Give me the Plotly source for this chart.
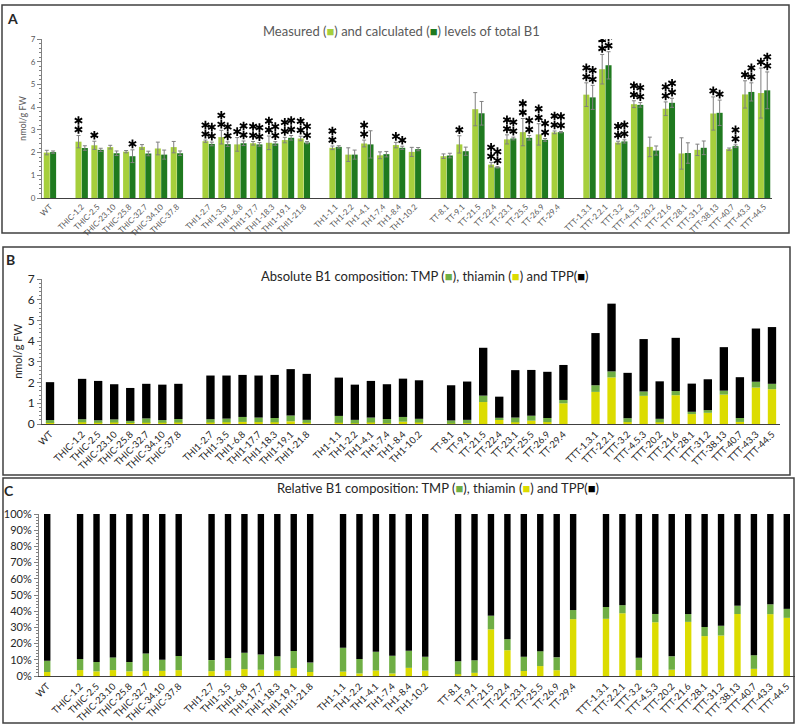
import math
import numpy as np
import plotly.graph_objects as go

# plant lines, grouped by construct
wt = ["WT"]
thic = ["THIC-1.2", "THIC-2.5", "THIC-23.10", "THIC-25.8", "THIC-32.7", "THIC-34.10", "THIC-37.8"]
thi1 = ["THI1-2.7", "THI1-3.5", "THI1-6.8", "THI1-17.7", "THI1-18.3", "THI1-19.1", "THI1-21.8"]
th1 = ["TH1-1.1", "TH1-2.2", "TH1-4.1", "TH1-7.4", "TH1-8.4", "TH1-10.2"]
tt = ["TT-8.1", "TT-9.1", "TT-21.5", "TT-22.4", "TT-23.1", "TT-25.5", "TT-26.9", "TT-29.4"]
ttt = ["TTT-1.3.1", "TTT-2.2.1", "TTT-3.2", "TTT-4.5.3", "TTT-20.2", "TTT-21.6", "TTT-28.1",
       "TTT-31.2", "TTT-38.13", "TTT-40.7", "TTT-43.3", "TTT-44.5"]
groups = [wt, thic, thi1, th1, tt, ttt]
lines = [n for g in groups for n in g]

# panel A: total B1 (nmol/g FW)
measured = [2.00,
            2.48, 2.32, 2.24, 2.04, 2.25, 2.18, 2.24,
            2.50, 2.68, 2.36, 2.41, 2.43, 2.55, 2.62,
            2.21, 1.91, 2.40, 1.88, 2.33, 2.03,
            1.84, 2.36, 3.91, 1.47, 2.58, 2.90, 2.80, 2.89,
            4.55, 5.67, 2.44, 4.13, 2.25, 3.93, 1.96, 2.12, 3.72, 2.15, 4.56, 4.62]
measured_err = [0.10,
                0.27, 0.18, 0.08, 0.05, 0.10, 0.28, 0.25,
                0.05, 0.30, 0.30, 0.08, 0.30, 0.12, 0.10,
                0.08, 0.30, 0.15, 0.15, 0.12, 0.20,
                0.10, 0.38, 0.73, 0.10, 0.20, 0.60, 0.47, 0.06,
                0.52, 0.65, 0.06, 0.15, 0.43, 0.30, 0.69, 0.25, 0.73, 0.05, 0.60, 1.10]
calculated = [2.02,
              2.20, 2.12, 1.97, 1.84, 1.96, 1.91, 1.97,
              2.38, 2.37, 2.41, 2.36, 2.40, 2.65, 2.44,
              2.25, 1.91, 2.36, 1.93, 2.21, 2.15,
              1.87, 2.06, 3.73, 1.35, 2.62, 2.65, 2.56, 2.90,
              4.43, 5.84, 2.49, 4.10, 2.09, 4.19, 1.98, 2.21, 3.75, 2.28, 4.67, 4.74]
calculated_err = [0.05,
                  0.10, 0.07, 0.10, 0.28, 0.10, 0.20, 0.10,
                  0.08, 0.10, 0.10, 0.08, 0.08, 0.10, 0.05,
                  0.05, 0.20, 0.60, 0.12, 0.07, 0.07,
                  0.10, 0.18, 0.52, 0.03, 0.06, 0.10, 0.06, 0.03,
                  0.53, 0.60, 0.07, 0.10, 0.20, 0.20, 0.45, 0.30, 0.56, 0.06, 0.40, 0.81]
measured_stars = [0,
                  2, 1, 0, 0, 0, 0, 0,
                  2, 2, 1, 2, 2, 2, 2,
                  2, 0, 2, 0, 1, 0,
                  0, 1, 0, 2, 2, 2, 2, 2,
                  2, 2, 2, 2, 0, 2, 0, 0, 1, 0, 1, 1]
calculated_stars = [0,
                    0, 0, 0, 1, 0, 0, 0,
                    2, 2, 2, 2, 2, 2, 2,
                    0, 0, 0, 0, 1, 0,
                    0, 0, 0, 2, 2, 2, 2, 2,
                    2, 2, 2, 2, 0, 2, 0, 0, 1, 2, 2, 2]

# panels B and C: B1 vitamers (nmol/g FW)
thiamin = [0.05,
           0.08, 0.06, 0.07, 0.05, 0.06, 0.06, 0.07,
           0.07, 0.08, 0.10, 0.09, 0.08, 0.13, 0.06,
           0.06, 0.03, 0.07, 0.03, 0.11, 0.07,
           0.02, 0.04, 1.06, 0.21, 0.08, 0.16, 0.09, 1.00,
           1.55, 2.25, 0.09, 1.36, 0.08, 1.39, 0.48, 0.54, 1.42, 0.10, 1.76, 1.68]
tmp = [0.14,
       0.15, 0.12, 0.15, 0.10, 0.21, 0.13, 0.17,
       0.16, 0.18, 0.24, 0.22, 0.21, 0.28, 0.14,
       0.33, 0.17, 0.24, 0.21, 0.23, 0.18,
       0.15, 0.16, 0.31, 0.09, 0.23, 0.24, 0.20, 0.16,
       0.32, 0.29, 0.19, 0.21, 0.17, 0.20, 0.11, 0.13, 0.19, 0.19, 0.28, 0.26]
tpp = [1.83,
       1.95, 1.90, 1.70, 1.59, 1.67, 1.71, 1.70,
       2.11, 2.08, 2.03, 2.03, 2.08, 2.24, 2.22,
       1.85, 1.70, 1.77, 1.68, 1.85, 1.86,
       1.70, 1.85, 2.31, 1.02, 2.29, 2.21, 2.23, 1.69,
       2.52, 3.27, 2.19, 2.53, 1.81, 2.57, 1.36, 1.49, 2.10, 1.97, 2.57, 2.74]

W, H = 800, 726
FONT = "Lato"
LIGHT = "#a6cf3c"
DARK = "#1f7a1f"
YELLOW = "#dcdc00"
GREEN = "#6fae45"

# category axis with an empty slot between construct groups
cats = []
for i, g in enumerate(groups):
    if i:
        cats.append(" " * i)
    cats += g


def px(x):
    return x / W


def py(y):
    return 1 - y / H


def star_path(cx, cy, r=4.3):
    # six-armed asterisk, pixel coords relative to the anchor point
    s = ""
    for ang in (90, 30, -30):
        dx = r * math.cos(math.radians(ang))
        dy = r * math.sin(math.radians(ang))
        s += "M%.2f,%.2fL%.2f,%.2f" % (cx - dx, cy - dy, cx + dx, cy + dy)
    return s


fig = go.Figure()

# ---- A
fig.add_bar(x=lines, y=measured, marker_color=LIGHT, width=0.38, offset=-0.39,
            error_y=dict(type="data", array=measured_err, color="#808080", thickness=1, width=2),
            xaxis="x", yaxis="y", name="measured")
fig.add_bar(x=lines, y=calculated, marker_color=DARK, width=0.38, offset=0.01,
            error_y=dict(type="data", array=calculated_err, color="#808080", thickness=1, width=2),
            xaxis="x", yaxis="y", name="calculated")

# ---- B (stacked by hand, overlay mode)
thi = np.array(thiamin)
tm = np.array(tmp)
tp = np.array(tpp)
fig.add_bar(x=lines, y=thi, marker_color=YELLOW, width=0.52, xaxis="x2", yaxis="y2")
fig.add_bar(x=lines, y=tm, base=thi, marker_color=GREEN, width=0.52, xaxis="x2", yaxis="y2")
fig.add_bar(x=lines, y=tp, base=thi + tm, marker_color="black", width=0.52, xaxis="x2", yaxis="y2")

# ---- C relative
tot = thi + tm + tp
fig.add_bar(x=lines, y=thi / tot * 100, marker_color=YELLOW, width=0.39, xaxis="x3", yaxis="y3")
fig.add_bar(x=lines, y=tm / tot * 100, base=thi / tot * 100, marker_color=GREEN, width=0.39,
            xaxis="x3", yaxis="y3")
fig.add_bar(x=lines, y=tp / tot * 100, base=(thi + tm) / tot * 100, marker_color="black",
            width=0.39, xaxis="x3", yaxis="y3")

fig.update_traces(marker_line_width=0)

xcommon = dict(type="category", categoryorder="array", categoryarray=cats,
               range=[-0.5, len(cats) - 0.5], tickangle=-45, showline=True,
               linecolor="#404040", linewidth=1.2, ticks="", showgrid=False, zeroline=False,
               automargin=False)
ycommon = dict(showline=True, linecolor="#808080", linewidth=1, ticks="outside", ticklen=4,
               tickcolor="#808080", showgrid=False, zeroline=False, automargin=False)

fig.update_layout(
    width=W, height=H, autosize=False,
    margin=dict(l=0, r=0, t=0, b=0),
    paper_bgcolor="white", plot_bgcolor="white",
    barmode="overlay", showlegend=False,
    font=dict(family=FONT, color="#262626"),
    xaxis=dict(xcommon, domain=[px(42), px(772)], anchor="y",
               tickfont=dict(size=8, color="#595959")),
    yaxis=dict(ycommon, domain=[py(198), py(39)], anchor="x", range=[0, 7], dtick=1,
               tickfont=dict(size=8, color="#595959"),
               minor=dict(ticks="outside", ticklen=2, dtick=0.2, tickcolor="#808080"),
               title=dict(text="nmol/g FW", font=dict(size=9, color="#595959"), standoff=2)),
    xaxis2=dict(xcommon, domain=[px(42), px(780)], anchor="y2",
                tickfont=dict(size=9.5, color="#262626")),
    yaxis2=dict(ycommon, domain=[py(424), py(279)], anchor="x2", range=[0, 7], dtick=1,
                tickfont=dict(size=12, color="#262626"),
                minor=dict(ticks="outside", ticklen=2, dtick=0.2, tickcolor="#808080"),
                title=dict(text="nmol/g FW", font=dict(size=11, color="#262626"), standoff=2)),
    xaxis3=dict(xcommon, domain=[px(39), px(795)], anchor="y3",
                tickfont=dict(size=9.5, color="#262626")),
    yaxis3=dict(ycommon, domain=[py(676), py(514)], anchor="x3", range=[0, 100], dtick=10,
                ticksuffix="%", tickfont=dict(size=11, color="#262626"),
                minor=dict(ticks="outside", ticklen=2, dtick=2, tickcolor="#808080")),
)

sq = "<span style='color:%s'>■</span>"
ann = [
    dict(x=px(401), y=py(31), text="Measured (" + sq % LIGHT + ") and calculated (" + sq % DARK
         + ") levels of total B1", font=dict(size=13, color="#595959")),
    dict(x=px(425), y=py(276), text="Absolute B1 composition: TMP (" + sq % GREEN + "), thiamin ("
         + sq % YELLOW + ") and TPP(" + sq % "black" + ")", font=dict(size=13, color="#262626")),
    dict(x=px(438), y=py(488), text="Relative B1 composition: TMP (" + sq % GREEN + "), thiamin ("
         + sq % YELLOW + ") and TPP(" + sq % "black" + ")", font=dict(size=13, color="#262626")),
    dict(x=px(12), y=py(19), text="<b>A</b>", font=dict(size=14, color="#262626")),
    dict(x=px(10), y=py(259), text="<b>B</b>", font=dict(size=14, color="#262626")),
    dict(x=px(9), y=py(490), text="<b>C</b>", font=dict(size=14, color="#262626")),
]
for a in ann:
    a.update(xref="paper", yref="paper", showarrow=False, xanchor="center", yanchor="middle")
fig.update_layout(annotations=ann)

# panel frames
shapes = [dict(type="rect", xref="paper", yref="paper", x0=px(a), y0=py(b), x1=px(c), y1=py(d),
               line=dict(color="#404040", width=1.5))
          for a, b, c, d in [(2, 5, 789, 233), (3, 247, 790, 475), (3, 478, 794, 723)]]

# significance stars above the error bars
for i, name in enumerate(lines):
    for vals, errs, stars, dx in ((measured, measured_err, measured_stars, -3.2),
                                  (calculated, calculated_err, calculated_stars, 3.2)):
        for k in range(stars[i]):
            shapes.append(dict(type="path", xref="x", yref="y", xsizemode="pixel",
                               ysizemode="pixel", xanchor=name, yanchor=vals[i] + errs[i],
                               path=star_path(dx, 6 + 9 * k),
                               line=dict(color="black", width=1.8)))
fig.update_layout(shapes=shapes)

fig.write_html("out.html", config={"displayModeBar": False},
               post_script="document.body.style.margin='0px';")
